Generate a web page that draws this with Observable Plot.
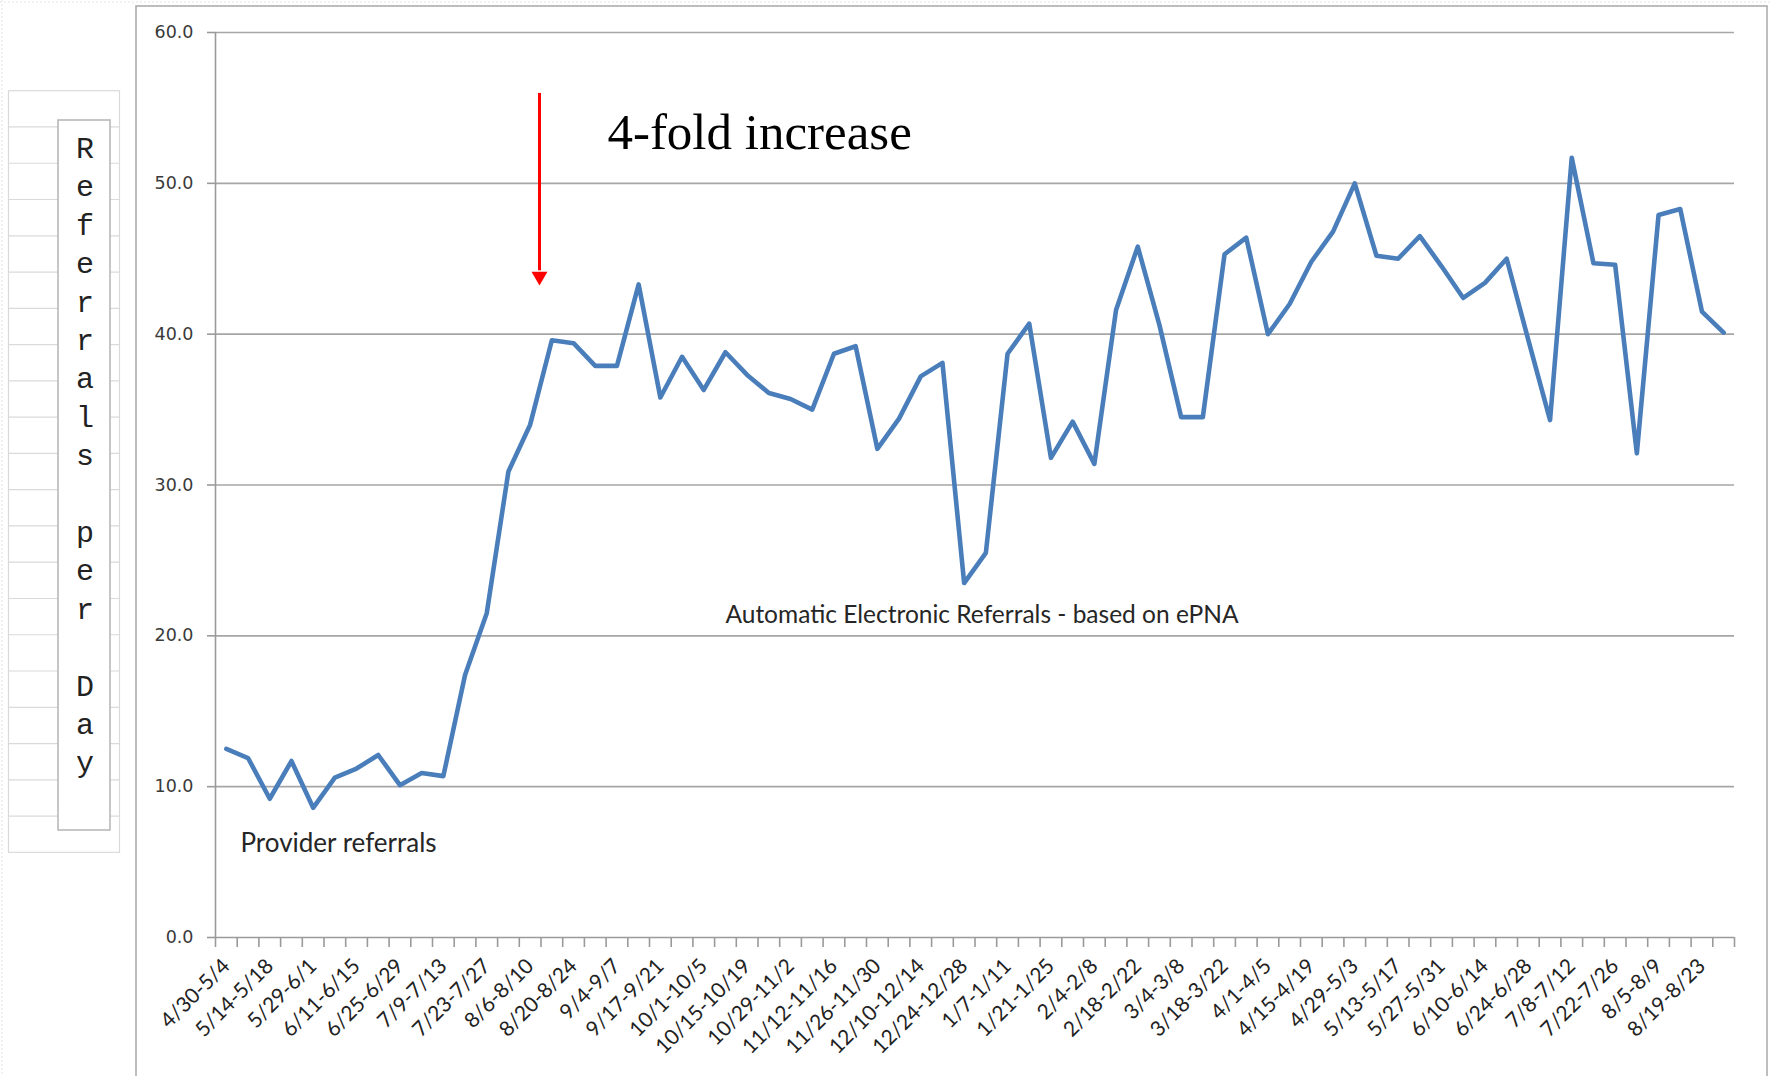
<!DOCTYPE html>
<html>
<head>
<meta charset="utf-8">
<script src="https://cdn.jsdelivr.net/npm/d3@7"></script>
<script src="https://cdn.jsdelivr.net/npm/@observablehq/plot@0.6"></script>
<style>
  html, body { margin: 0; padding: 0; background: #fff; }
  #chart { position: relative; width: 1772px; height: 1076px; overflow: hidden; }
</style>
</head>
<body>
<div id="chart"></div>
<script>
// Weekly average referrals per day, one value per work week (70 weeks)
const referrals = [
  12.5, 11.9, 9.2, 11.7, 8.6, 10.6, 11.2, 12.1, 10.1, 10.9,
  10.7, 17.4, 21.5, 30.9, 34.0, 39.6, 39.4, 37.9, 37.9, 43.3,
  35.8, 38.5, 36.3, 38.8, 37.3, 36.1, 35.7, 35.0, 38.7, 39.2,
  32.4, 34.4, 37.2, 38.1, 23.5, 25.5, 38.7, 40.7, 31.8, 34.2,
  31.4, 41.6, 45.8, 40.6, 34.5, 34.5, 45.3, 46.4, 40.0, 42.0,
  44.8, 46.8, 50.0, 45.2, 45.0, 46.5, 44.5, 42.4, 43.4, 45.0,
  39.6, 34.3, 51.7, 44.7, 44.6, 32.1, 47.9, 48.3, 41.5, 40.1
];

// Labels shown on every other week
const weekLabels = [
  "4/30-5/4", "5/14-5/18", "5/29-6/1", "6/11-6/15", "6/25-6/29", "7/9-7/13",
  "7/23-7/27", "8/6-8/10", "8/20-8/24", "9/4-9/7", "9/17-9/21", "10/1-10/5",
  "10/15-10/19", "10/29-11/2", "11/12-11/16", "11/26-11/30", "12/10-12/14",
  "12/24-12/28", "1/7-1/11", "1/21-1/25", "2/4-2/8", "2/18-2/22", "3/4-3/8",
  "3/18-3/22", "4/1-4/5", "4/15-4/19", "4/29-5/3", "5/13-5/17", "5/27-5/31",
  "6/10-6/14", "6/24-6/28", "7/8-7/12", "7/22-7/26", "8/5-8/9", "8/19-8/23"
];

const yTicks = [0, 10, 20, 30, 40, 50, 60];
const yTitle = "Referrals per Day";

const providerNote = {text: "Provider referrals", x: 0.65, y: 5.64};
const automaticNote = {text: "Automatic Electronic Referrals - based on ePNA", x: 23.0, y: 20.82};
const headline = {text: "4-fold increase", x: 17.56, y: 52.3};
const arrow = {x: 14.43, top: 55.96, base: 44.2, head: 43.84};

const n = referrals.length;
const labelTicks = d3.range(0, n, 2);
const boundaryTicks = d3.range(-0.5, n, 1);

const gridColor = "#a6a6a6";
const axisColor = "#9a9a9a";

const plot = Plot.plot({
  width: 1772,
  height: 1076,
  marginLeft: 215,
  marginRight: 38,
  marginTop: 32,
  marginBottom: 139,
  style: {fontFamily: "Lato, 'Open Sans', sans-serif", background: "transparent", overflow: "visible"},
  x: {type: "linear", domain: [-0.5, n - 0.5]},
  y: {domain: [0, 60]},
  marks: [
    // horizontal gridlines
    Plot.ruleY(yTicks.slice(1), {stroke: gridColor, strokeWidth: 1.6}),
    // axis lines
    Plot.ruleY([0], {stroke: axisColor, strokeWidth: 1.6}),
    Plot.ruleX([-0.5], {stroke: axisColor, strokeWidth: 1.6}),
    // y axis: tick marks and labels
    Plot.axisY({ticks: yTicks, tickSize: 8, tickFormat: () => "", color: axisColor, strokeWidth: 1.6, label: null}),
    Plot.axisY({ticks: yTicks, tickSize: 0, tickPadding: 22, tickFormat: d => d.toFixed(1),
      color: "#3a3a3a", fontFamily: "'DejaVu Sans', Verdana, sans-serif", fontSize: 17.5, label: null}),
    // x axis: tick marks between weeks, labels on every other week
    Plot.axisX({ticks: boundaryTicks, tickSize: 10, tickFormat: () => "", color: axisColor, strokeWidth: 1.6, label: null}),
    Plot.axisX({ticks: labelTicks, tickSize: 0, tickPadding: 25, dx: 0, tickRotate: -45,
      tickFormat: i => weekLabels[i / 2], color: "#222", fontSize: 21, label: null}),
    // the series
    Plot.lineY(referrals, {stroke: "#4a7ebb", strokeWidth: 4.6, strokeLinejoin: "round", strokeLinecap: "round"}),
    // annotations
    Plot.text([providerNote], {x: "x", y: "y", text: "text", textAnchor: "start", lineAnchor: "bottom",
      fontSize: 26, fill: "#262626"}),
    Plot.text([automaticNote], {x: "x", y: "y", text: "text", textAnchor: "start", lineAnchor: "bottom",
      fontSize: 24.5, fill: "#262626"}),
    Plot.text([headline], {x: "x", y: "y", text: "text", textAnchor: "start", lineAnchor: "bottom",
      fontFamily: "'Liberation Serif', 'DejaVu Serif', serif", fontSize: 51, fill: "#000"}),
    Plot.ruleX([arrow], {x: "x", y1: "top", y2: "base", stroke: "#ff0000", strokeWidth: 3}),
    Plot.dot([arrow], {x: "x", y: "head", symbol: "triangle", r: 5.94, rotate: 180, fill: "#ff0000", stroke: null})
  ]
});

// Slide frame, spreadsheet cells and the boxed vertical axis title
const svg = d3.select(plot);
const deco = svg.insert("g", ":first-child");

deco.append("line").attr("x1", 2).attr("x2", 2).attr("y1", 0).attr("y2", 1076)
  .attr("stroke", "#e4e4e4").attr("stroke-dasharray", "2,2");
deco.append("line").attr("x1", 0).attr("x2", 1772).attr("y1", 2).attr("y2", 2)
  .attr("stroke", "#e4e4e4").attr("stroke-dasharray", "2,2");

deco.append("rect").attr("x", 136).attr("y", 6).attr("width", 1631).attr("height", 1100)
  .attr("fill", "none").attr("stroke", "#a8a8a8").attr("stroke-width", 1.5);

const cellTop = 90.7, cellH = 36.27, rows = 21;
deco.append("rect").attr("x", 8.5).attr("y", cellTop).attr("width", 111).attr("height", cellH * rows)
  .attr("fill", "#fff").attr("stroke", "#dadada").attr("stroke-width", 1.2);
deco.selectAll("line.cell").data(d3.range(1, rows)).join("line").attr("class", "cell")
  .attr("x1", 8.5).attr("x2", 119.5)
  .attr("y1", i => cellTop + i * cellH).attr("y2", i => cellTop + i * cellH)
  .attr("stroke", "#dadada").attr("stroke-width", 1.2);

deco.append("rect").attr("x", 58).attr("y", 120).attr("width", 52).attr("height", 710)
  .attr("fill", "#fff").attr("stroke", "#b4b4b4").attr("stroke-width", 1.5);

deco.append("text")
  .attr("font-family", "'Courier New', 'Liberation Mono', monospace")
  .attr("font-size", 30).attr("fill", "#222").attr("text-anchor", "middle")
  .selectAll("tspan").data([...yTitle]).join("tspan")
  .attr("x", 85).attr("y", (c, i) => 158 + i * 38.4)
  .text(c => c);

document.getElementById("chart").append(plot);
</script>
</body>
</html>
